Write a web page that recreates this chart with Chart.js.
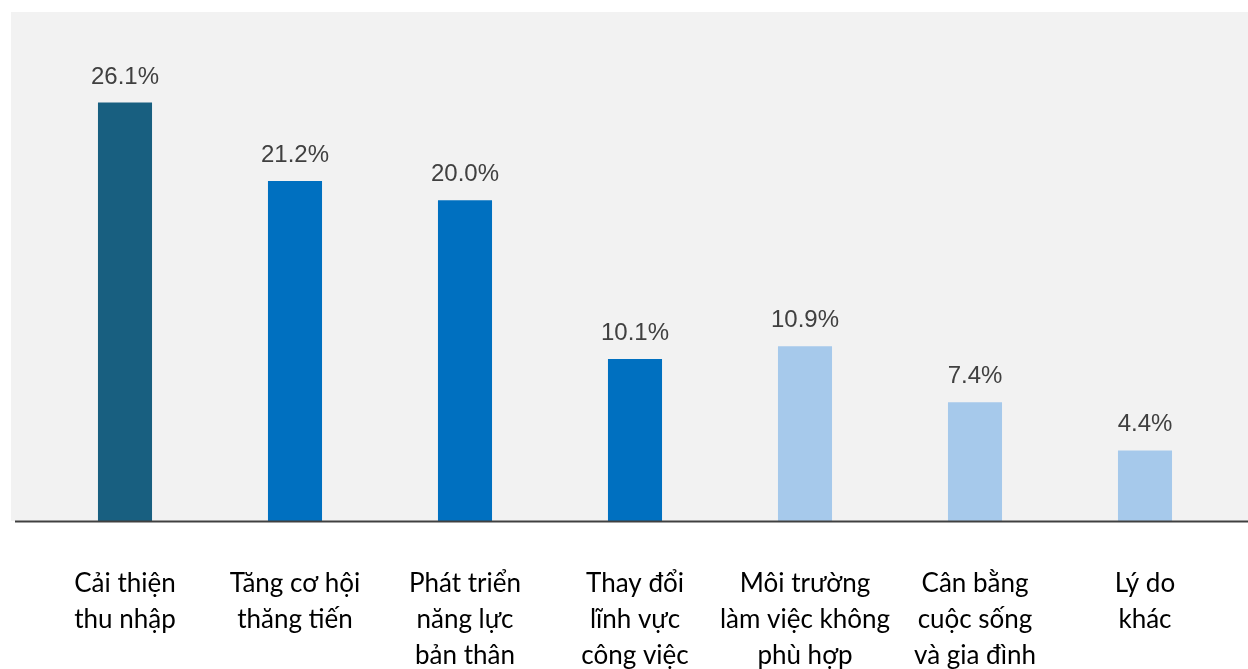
<!DOCTYPE html>
<html lang="vi">
<head>
    <meta charset="UTF-8">
    <title>Lý do thay đổi công việc</title>
    <script src="https://cdn.jsdelivr.net/npm/chart.js"></script>
    <style>
        html, body { margin: 0; padding: 0; background: #ffffff; }
        #wrap { width: 1248px; height: 669px; }
    </style>
</head>
<body>
    <div id="wrap"><canvas id="bieuDo" width="1248" height="669"></canvas></div>

    <script>
        const danhMuc = [
            ['Cải thiện', 'thu nhập'],
            ['Tăng cơ hội', 'thăng tiến'],
            ['Phát triển', 'năng lực', 'bản thân'],
            ['Thay đổi', 'lĩnh vực', 'công việc'],
            ['Môi trường', 'làm việc không', 'phù hợp'],
            ['Cân bằng', 'cuộc sống', 'và gia đình'],
            ['Lý do', 'khác']
        ];
        const tyLe = [26.1, 21.2, 20.0, 10.1, 10.9, 7.4, 4.4];
        const mauCot = ['#185f80', '#0070c0', '#0070c0', '#0070c0', '#a6c9eb', '#a6c9eb', '#a6c9eb'];

        // nen xam + duong truc + nhan phan tram
        const nenVaNhan = {
            id: 'nenVaNhan',
            beforeDraw(chart) {
                const c = chart.ctx;
                c.save();
                c.fillStyle = '#f2f2f2';
                c.fillRect(11, 12, 1237, 509);
                c.restore();
            },
            afterDatasetsDraw(chart) {
                const c = chart.ctx;
                const bottom = chart.chartArea.bottom;
                c.save();
                c.strokeStyle = '#404040';
                c.lineWidth = 2;
                c.beginPath();
                c.moveTo(15, bottom + 0.5);
                c.lineTo(1248, bottom + 0.5);
                c.stroke();

                c.fillStyle = '#404040';
                c.font = '24px "Liberation Sans", Arial, sans-serif';
                c.textAlign = 'center';
                c.textBaseline = 'alphabetic';
                chart.getDatasetMeta(0).data.forEach((bar, i) => {
                    c.fillText(tyLe[i].toFixed(1) + '%', bar.x, bar.y - 19);
                });
                c.restore();
            }
        };

        new Chart(document.getElementById('bieuDo'), {
            type: 'bar',
            data: {
                labels: danhMuc,
                datasets: [{
                    data: tyLe,
                    backgroundColor: mauCot,
                    categoryPercentage: 1,
                    barPercentage: 0.318
                }]
            },
            options: {
                responsive: false,
                animation: false,
                layout: { padding: { left: 40, right: 18, top: 40, bottom: 0 } },
                plugins: {
                    legend: { display: false },
                    tooltip: { enabled: false }
                },
                scales: {
                    x: {
                        grid: { display: false, drawTicks: false },
                        border: { display: false },
                        ticks: {
                            color: '#000000',
                            padding: 44,
                            maxRotation: 0,
                            autoSkip: false,
                            font: { family: 'Lato', size: 26, lineHeight: 1.4 }
                        },
                        afterFit: s => { s.height = 148; }
                    },
                    y: {
                        display: false,
                        min: 0,
                        max: 30
                    }
                }
            },
            plugins: [nenVaNhan]
        });
    </script>
</body>
</html>
